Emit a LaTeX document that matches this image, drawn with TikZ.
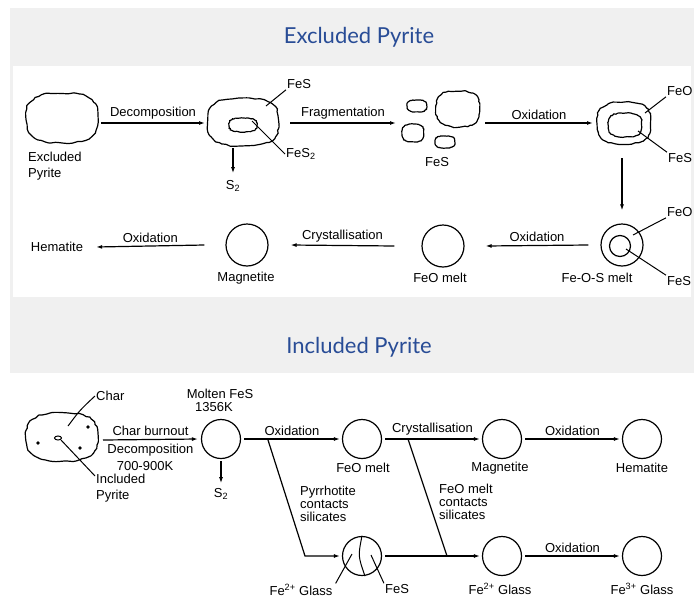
\documentclass[tikz,border=0pt]{standalone}
\usepackage{fontspec}
\setmainfont{Liberation Sans}
\newfontfamily\titlefont{Lato}
\usetikzlibrary{arrows.meta,positioning}

\definecolor{paneGray}{RGB}{240,240,240}
\definecolor{titleBlue}{RGB}{40,76,150}

\tikzset{
  lbl/.style={font=\fontsize{13}{16}\selectfont, inner sep=1pt},
  ball/.style={circle, draw, line width=1.2pt, minimum size=40pt, inner sep=0pt},
  flow/.style={line width=1.2pt, -{Latex[length=6pt,width=4pt]}},
  lead/.style={line width=1pt},
  blobline/.style={line width=1.2pt},
  heading/.style={font=\titlefont\fontsize{22}{24}\selectfont, text=titleBlue},
}

% wobbly particle outline: centre x, centre y, rx, ry, wobble
\newcommand{\blobat}[5]{%
  \draw[blobline] plot[smooth cycle, domain=5:350, samples=47, variable=\t]
    ({#1+#3*cos(\t)*abs(cos(\t))^(-0.3)+#5*rand},
     {#2+#4*sin(\t)*abs(sin(\t))^(-0.3)+#5*rand});}

\begin{document}
\begin{tikzpicture}[x=1pt, y=-1pt]
	\pgfmathsetseed{11}
	\useasboundingbox (0,0) rectangle (694,600);
	
	\fill [paneGray] (10,8) rectangle (694,373);
	\fill [white] (13,66) rectangle (691,297);
	\node [heading] (ttlEx) at (359,37) {Excluded Pyrite};
	\node [heading] (ttlIn) at (359,347) {Included Pyrite};
	
	% excluded pyrite, upper row
	\blobat{62}{118}{36}{25}{0.8}
	\node [lbl, align=left, anchor=north west] (pyLbl) at (27,151) {Excluded\\Pyrite};
	\coordinate (b1E) at (101,123);
	\coordinate (b2W) at (205,123);
	\draw [flow] (b1E) -- node[lbl, above=2pt] (decLbl) {Decomposition} (b2W);
	
	\blobat{243}{122}{36}{24}{0.8}
	\blobat{243}{125}{14}{7}{0.4}
	\node [lbl, anchor=west] (fesTop) at (286,84) {FeS};
	\coordinate (fesTopFoot) at (266,106);
	\draw [lead] (fesTopFoot) -- (fesTop.south west);
	\node [lbl, anchor=west] (fes2) at (285,154) {FeS\textsubscript{2}};
	\coordinate (fes2Foot) at (252,121);
	\draw [lead] (fes2Foot) -- (fes2.west);
	\coordinate (b2S) at (233,148);
	\node [lbl] (s2a) at (233,186) {S\textsubscript{2}};
	\draw [flow, shorten >=6pt] (b2S) -- (s2a.north);
	
	\coordinate (b2E) at (290,123);
	\coordinate (frW) at (396,123);
	\draw [flow] (b2E) -- node[lbl, above=2pt] (fragLbl) {Fragmentation} (frW);
	\blobat{417}{106}{10}{6}{0.3}
	\blobat{458}{109}{22}{18}{0.7}
	\blobat{413}{133}{11}{9}{0.3}
	\blobat{445}{142}{10}{6}{0.3}
	\node [lbl] (fesFrag) at (437,162) {FeS};
	
	\coordinate (frE) at (485,123);
	\coordinate (shW) at (593,123);
	\draw [flow] (frE) -- node[lbl, above=2pt] (oxLblA) {Oxidation} (shW);
	\blobat{624}{123}{27}{21}{0.7}
	\blobat{625}{125}{17}{12}{0.5}
	\node [lbl, anchor=west] (feoA) at (666,91) {FeO};
	\coordinate (feoAFoot) at (645,113);
	\draw [lead] (feoAFoot) -- (feoA.south west);
	\node [lbl, anchor=west] (fesA) at (667,158) {FeS};
	\coordinate (fesAFoot) at (638,131);
	\draw [lead] (fesAFoot) -- (fesA.north west);
	\coordinate (shS) at (622,158);
	
	% excluded pyrite, lower row
	\node [ball, minimum size=42pt] (fos) at (622,245) {};
	\node [circle, draw, line width=1.2pt, minimum size=21pt, inner sep=0pt] (fosIn) at (620,246) {};
	\draw [flow, shorten >=13pt] (shS) -- (fos.north);
	\node [lbl, anchor=west] (feoB) at (666,212) {FeO};
	\coordinate (feoBFoot) at (633,235);
	\draw [lead] (feoBFoot) -- (feoB.south west);
	\node [lbl, anchor=west] (fesB) at (666,281) {FeS};
	\coordinate (fesBFoot) at (626,249);
	\draw [lead] (fesBFoot) -- (fesB.north west);
	\node [lbl] (fosLbl) at (597,278) {Fe-O-S melt};
	
	\node [ball, minimum size=42pt] (feoMelt) at (443,246) {};
	\node [lbl] (feoMeltLbl) at (440,278) {FeO melt};
	\draw [flow] ([xshift=-12pt]fos.west) -- node[lbl, above=2pt] (oxLblB) {Oxidation} ([xshift=21pt]feoMelt.east);
	
	\node [ball, minimum size=42pt] (magn) at (247,245) {};
	\node [lbl] (magnLbl) at (246,278) {Magnetite};
	\draw [flow] ([xshift=-27pt]feoMelt.west) -- node[lbl, above=2pt] (cryLbl) {Crystallisation} ([xshift=22pt]magn.east);
	
	\node [lbl] (hemA) at (57,247) {Hematite};
	\draw [flow] ([xshift=-21pt]magn.west) -- node[lbl, above=2pt] (oxLblC) {Oxidation} ([xshift=12pt]hemA.east);
	
	% included pyrite
	\blobat{62}{437}{36}{24}{0.8}
	\fill (38,443) circle (1.8);
	\fill (88,427) circle (1.8);
	\fill (80,448) circle (1.8);
	\draw [lead] (58,438) ellipse (3.5 and 2);
	\node [lbl, anchor=west] (charLbl) at (95,396) {Char};
	\coordinate (charFoot) at (68,426);
	\draw [lead] (charFoot) .. controls (80,410) .. (charLbl.west);
	\node [lbl, align=left, anchor=north west] (incLbl) at (95,473) {Included\\Pyrite};
	\coordinate (incFoot) at (61,440);
	\draw [lead] (incFoot) -- ([yshift=-3pt]incLbl.north west);
	
	\node [ball, minimum size=39pt] (molten) at (221,439) {};
	\node [lbl] (moltenLbl) at (220,394) {Molten FeS};
	\node [lbl] (moltenT) at (214,407) {1356K};
	\coordinate (pyOut) at (103,440);
	\draw [flow] (pyOut) -- node[lbl, above=2pt] (burnLbl) {Char burnout}
		node[lbl, below=3pt] (decLblB) {Decomposition} ([xshift=-3pt]molten.west);
	\node [lbl] (tempLbl) at (145,466) {700-900K};
	\node [lbl] (s2b) at (221,494) {S\textsubscript{2}};
	\draw [flow, shorten <=2pt, shorten >=4pt] (molten.south) -- (s2b.north);
	
	\node [ball, minimum size=39pt] (feoM2) at (362,439) {};
	\node [ball, minimum size=39pt] (magn2) at (502,439) {};
	\node [ball, minimum size=39pt] (hem2) at (642,439) {};
	\node [ball, minimum size=39pt] (fesG) at (362,556) {};
	\node [ball, minimum size=39pt] (glass2) at (502,556) {};
	\node [ball, minimum size=39pt] (glass3) at (642,556) {};
	
	\draw [flow] ([xshift=3pt]molten.east) -- node[lbl, above=2pt] (oxLblD) {Oxidation} ([xshift=-2pt]feoM2.west);
	\coordinate (br1) at (268,440);
	\coordinate (br1b) at (305,556);
	\draw [flow] (br1) -- (br1b) -- ([xshift=-2pt]fesG.west);
	\node [lbl, align=left, anchor=north west] (pyrLbl) at (299,485) {Pyrrhotite\\[-3pt]contacts\\[-3pt]silicates};
	
	\draw [flow] ([xshift=3pt]feoM2.east) -- node[lbl, above=2pt] (cryLblB) {Crystallisation} ([xshift=-2pt]magn2.west);
	\coordinate (br2) at (408,439);
	\coordinate (br2b) at (447,556);
	\draw [line width=1.2pt] (br2) -- (br2b);
	\draw [flow] ([xshift=3pt]fesG.east) -- ([xshift=-2pt]glass2.west);
	\node [lbl, align=left, anchor=north west] (feoCtLbl) at (438,483) {FeO melt\\[-3pt]contacts\\[-3pt]silicates};
	
	\draw [flow] ([xshift=3pt]magn2.east) -- node[lbl, above=2pt] (oxLblE) {Oxidation} ([xshift=-2pt]hem2.west);
	\draw [flow] ([xshift=3pt]glass2.east) -- node[lbl, above=2pt] (oxLblF) {Oxidation} ([xshift=-2pt]glass3.west);
	
	\node [lbl] (feoM2Lbl) at (363,468) {FeO melt};
	\node [lbl] (magn2Lbl) at (500,468) {Magnetite};
	\node [lbl] (hem2Lbl) at (642,468) {Hematite};
	\node [lbl] (glass2Lbl) at (500,589) {Fe\textsuperscript{2+} Glass};
	\node [lbl] (glass3Lbl) at (642,589) {Fe\textsuperscript{3+} Glass};
	
	% FeS split inside the glass bead
	\draw [lead] (fesG.north) .. controls (358,556) .. ([xshift=3pt]fesG.south);
	\node [lbl] (glassL) at (301,590) {Fe\textsuperscript{2+} Glass};
	\coordinate (glassLFoot) at (352,554);
	\draw [lead] (glassLFoot) -- ([xshift=2pt]glassL.north east);
	\node [lbl] (fesC) at (397,589) {FeS};
	\coordinate (fesCFoot) at (371,555);
	\draw [lead] (fesCFoot) -- (fesC.north west);
\end{tikzpicture}
\end{document}
